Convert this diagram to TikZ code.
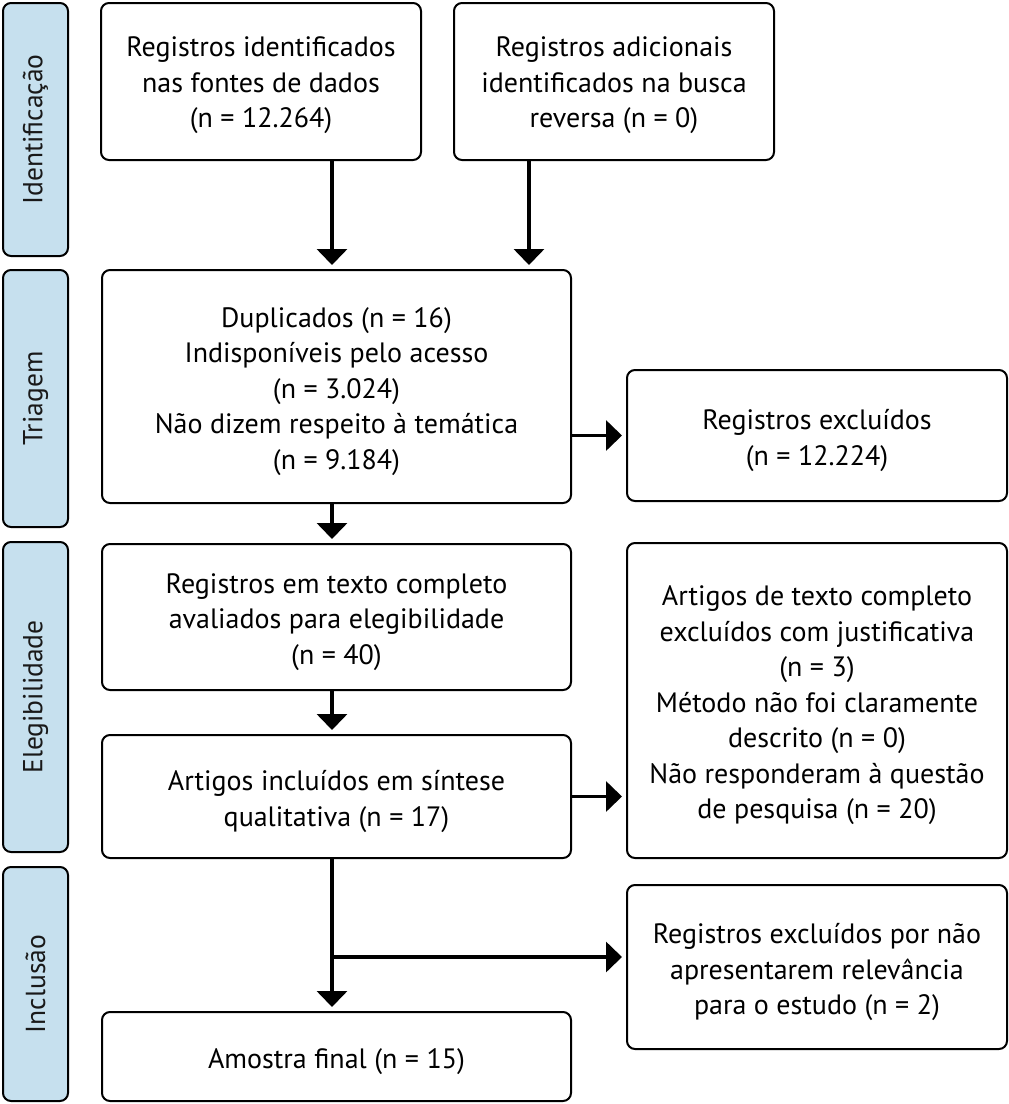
\documentclass[tikz,border=0pt]{standalone}
\usepackage{fontspec}
\setmainfont{PT Sans}
\usetikzlibrary{arrows.meta}
\definecolor{sidebl}{RGB}{198,224,238}
\tikzset{
  x=1pt, y=-1pt,
  box/.style={draw=black, line width=2pt, rounded corners=8pt, inner sep=0pt, fill=white},
  txt/.style={align=center, inner sep=0pt, font=\fontsize{28}{35.5}\selectfont},
  side/.style={draw=black, line width=2pt, rounded corners=8pt, fill=sidebl, rotate=90,
    inner sep=0pt, font=\fontsize{27.5}{30}\selectfont, text=black!90},
  arr/.style={line width=3.5pt, -{Triangle[width=30pt,length=16pt]}, shorten >=4pt}
}
\begin{document}
\begin{tikzpicture}
\useasboundingbox (0,0) rectangle (1009,1104);
% side labels
\node[side, minimum width=253pt, minimum height=65pt] (s1) at (35.5,129.5) {Identificação};
\node[side, minimum width=257pt, minimum height=65pt] (s2) at (35.5,398.5) {Triagem};
\node[side, minimum width=310pt, minimum height=65pt] (s3) at (35.5,697) {Elegibilidade};
\node[side, minimum width=234pt, minimum height=65pt] (s4) at (35.5,984) {Inclusão};
% boxes
\node[box, minimum width=320pt, minimum height=157pt] (b1) at (261,81.5) {};
\node[txt] (t1) at ([yshift=-4pt]b1.center) {Registros identificados\\nas fontes de dados\\(n = 12.264)};
\node[box, minimum width=320pt, minimum height=157pt] (b2) at (614,81.5) {};
\node[txt] (t2) at ([yshift=-4pt]b2.center) {Registros adicionais\\identificados na busca\\reversa (n = 0)};
\node[box, minimum width=469pt, minimum height=233pt] (b3) at (336.5,386.5) {};
\node[txt] (t3) at ([yshift=-5pt]b3.center) {Duplicados (n = 16)\\Indisponíveis pelo acesso\\(n = 3.024)\\Não dizem respeito à temática\\(n = 9.184)};
\node[box, minimum width=380pt, minimum height=131pt] (b4) at (817,435.5) {};
\node[txt] (t4) at ([yshift=-5pt]b4.center) {Registros excluídos\\(n = 12.224)};
\node[box, minimum width=469pt, minimum height=146pt] (b5) at (336.5,617) {};
\node[txt] (t5) at ([yshift=-5pt]b5.center) {Registros em texto completo\\avaliados para elegibilidade\\(n = 40)};
\node[box, minimum width=469pt, minimum height=123pt] (b6) at (336.5,796.5) {};
\node[txt] (t6) at ([yshift=-5pt]b6.center) {Artigos incluídos em síntese\\qualitativa (n = 17)};
\node[box, minimum width=380pt, minimum height=315pt] (b7) at (817,700.5) {};
\node[txt] (t7) at ([yshift=-5pt]b7.center) {Artigos de texto completo\\excluídos com justificativa\\(n = 3)\\Método não foi claramente\\descrito (n = 0)\\Não responderam à questão\\de pesquisa (n = 20)};
\node[box, minimum width=380pt, minimum height=164pt] (b8) at (817,967) {};
\node[txt] (t8) at ([yshift=-5pt]b8.center) {Registros excluídos por não\\apresentarem relevância\\para o estudo (n = 2)};
\node[box, minimum width=469pt, minimum height=89pt] (b9) at (336.5,1056.5) {};
\node[txt] (t9) at ([yshift=-5pt]b9.center) {Amostra final (n = 15)};
% connectors
\coordinate (xa) at (332,0);
\coordinate (xb) at (529,0);
\coordinate (br) at (332,957);
\draw[arr] (b1.south -| xa) -- (b3.north -| xa);
\draw[arr] (b2.south -| xb) -- (b3.north -| xb);
\draw[arr] (b4.west -| b3.east) -- (b4.west);
\draw[arr] (b3.south -| xa) -- (b5.north -| xa);
\draw[arr] (b5.south -| xa) -- (b6.north -| xa);
\draw[arr] (b6.east) -- (b6.east -| b7.west);
\draw[arr] (b6.south -| xa) -- (b9.north -| xa);
\draw[arr, shorten <=-1.75pt] (br) -- (br -| b8.west);
\end{tikzpicture}
\end{document}
